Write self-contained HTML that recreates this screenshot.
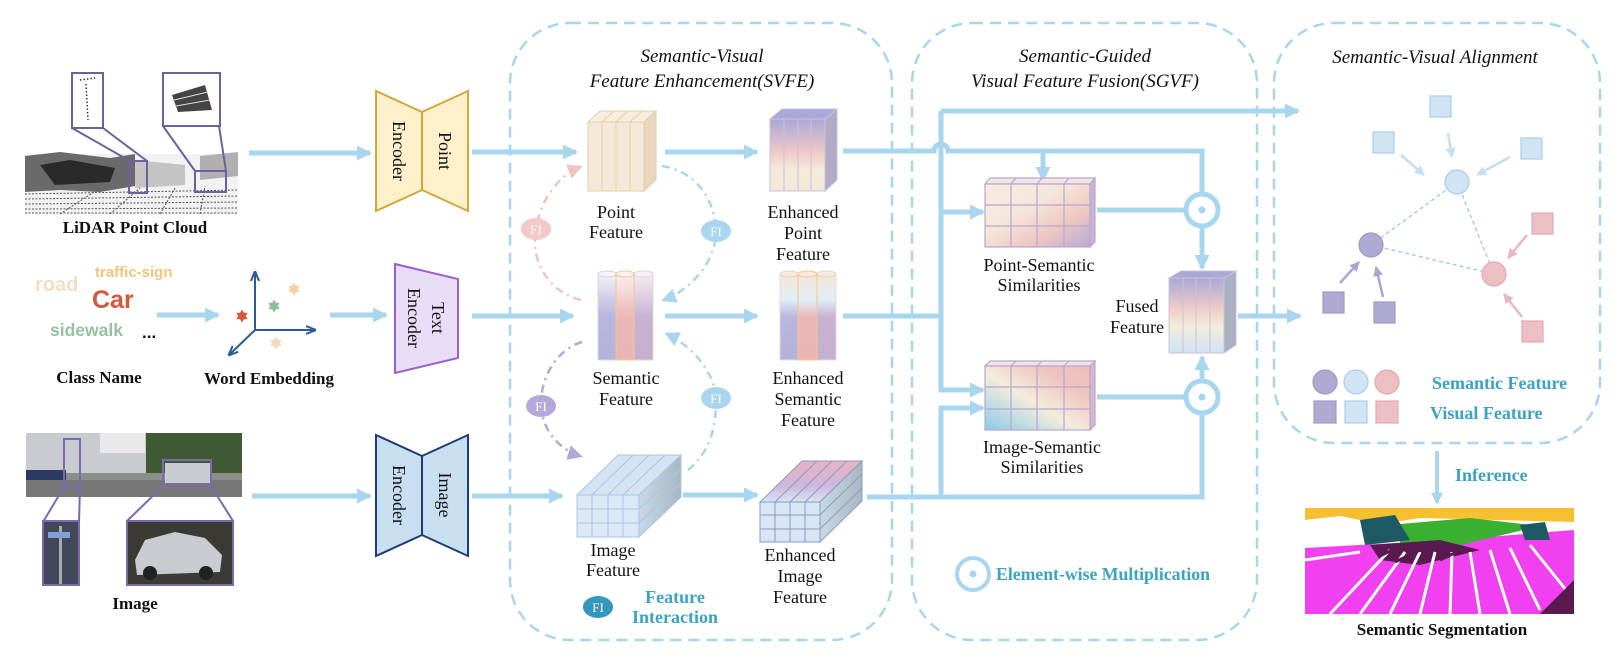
<!DOCTYPE html>
<html><head><meta charset="utf-8"><style>
html,body{margin:0;padding:0;background:#fff;}
svg{display:block;}
.s{font-family:"Liberation Serif",serif;font-size:18px;fill:#111;text-anchor:middle;}
.it{font-family:"Liberation Serif",serif;font-style:italic;font-size:19px;fill:#111;text-anchor:middle;}
.b{font-family:"Liberation Serif",serif;font-weight:bold;font-size:17px;fill:#111;text-anchor:middle;}
.t{font-family:"Liberation Serif",serif;font-weight:bold;font-size:18px;fill:#3aa3c6;}
.w{font-family:"Liberation Sans",sans-serif;font-weight:bold;}
</style></head><body>
<svg width="1614" height="658" viewBox="0 0 1614 658" xmlns="http://www.w3.org/2000/svg">
<defs>
<marker id="a" viewBox="0 0 3 3" refX="2.6" refY="1.5" markerWidth="3" markerHeight="3" orient="auto" markerUnits="strokeWidth"><path d="M0,0 L3,1.5 L0,3 z" fill="#a8d6ee"/></marker>
<marker id="ax" viewBox="0 0 10 10" refX="9" refY="5" markerWidth="5" markerHeight="5" orient="auto" markerUnits="strokeWidth"><path d="M0,1 L10,5 L0,9" fill="none" stroke="#2b5a9c" stroke-width="2"/></marker>
<marker id="ab" viewBox="0 0 10 10" refX="9" refY="5" markerWidth="4" markerHeight="4" orient="auto" markerUnits="strokeWidth"><path d="M0,0 L10,5 L0,10 z" fill="#c4e0f3"/></marker>
<marker id="ap" viewBox="0 0 10 10" refX="9" refY="5" markerWidth="4" markerHeight="4" orient="auto" markerUnits="strokeWidth"><path d="M0,0 L10,5 L0,10 z" fill="#aaa6d2"/></marker>
<marker id="ar" viewBox="0 0 10 10" refX="9" refY="5" markerWidth="4" markerHeight="4" orient="auto" markerUnits="strokeWidth"><path d="M0,0 L10,5 L0,10 z" fill="#eab8bc"/></marker>
<marker id="fp" viewBox="0 0 10 10" refX="8" refY="5" markerWidth="6" markerHeight="6" orient="auto" markerUnits="strokeWidth"><path d="M0,0 L10,5 L0,10 z" fill="#f0c4c4"/></marker>
<marker id="fb" viewBox="0 0 10 10" refX="8" refY="5" markerWidth="6" markerHeight="6" orient="auto" markerUnits="strokeWidth"><path d="M0,0 L10,5 L0,10 z" fill="#a9d6ee"/></marker>
<marker id="fv" viewBox="0 0 10 10" refX="8" refY="5" markerWidth="6" markerHeight="6" orient="auto" markerUnits="strokeWidth"><path d="M0,0 L10,5 L0,10 z" fill="#b3a9d6"/></marker>
<linearGradient id="gEP" x1="0" y1="0" x2="0" y2="1"><stop offset="0" stop-color="#a9a8d6"/><stop offset="0.45" stop-color="#efc8c6"/><stop offset="0.7" stop-color="#f5e9da"/><stop offset="1" stop-color="#f4e8da"/></linearGradient>
<linearGradient id="gF" x1="0" y1="0" x2="0" y2="1"><stop offset="0" stop-color="#a9a8d6"/><stop offset="0.4" stop-color="#efcbc6"/><stop offset="0.65" stop-color="#f4ecdc"/><stop offset="1" stop-color="#cfe3f3"/></linearGradient>
<linearGradient id="cL" x1="0" y1="0" x2="0" y2="1"><stop offset="0" stop-color="#f4f1f7"/><stop offset="0.5" stop-color="#b7b6dc"/><stop offset="1" stop-color="#b3b2da"/></linearGradient>
<linearGradient id="cM" x1="0" y1="0" x2="0" y2="1"><stop offset="0" stop-color="#fbeff0"/><stop offset="0.5" stop-color="#eab7b6"/><stop offset="1" stop-color="#e9b6b5"/></linearGradient>
<linearGradient id="cR" x1="0" y1="0" x2="0" y2="1"><stop offset="0" stop-color="#f4edf4"/><stop offset="0.5" stop-color="#c8b2d2"/><stop offset="1" stop-color="#c6b0d0"/></linearGradient>
<linearGradient id="eL" x1="0" y1="0" x2="0" y2="1"><stop offset="0" stop-color="#f5e6d6"/><stop offset="0.3" stop-color="#e0eef6"/><stop offset="0.5" stop-color="#b8b6dc"/><stop offset="1" stop-color="#b3b2da"/></linearGradient>
<linearGradient id="eM" x1="0" y1="0" x2="0" y2="1"><stop offset="0" stop-color="#f5e6d6"/><stop offset="0.3" stop-color="#e0eef6"/><stop offset="0.5" stop-color="#eab7b6"/><stop offset="1" stop-color="#e9b6b5"/></linearGradient>
<linearGradient id="eR" x1="0" y1="0" x2="0" y2="1"><stop offset="0" stop-color="#f5e6d6"/><stop offset="0.3" stop-color="#e0eef6"/><stop offset="0.5" stop-color="#c8b2d2"/><stop offset="1" stop-color="#c6b0d0"/></linearGradient>
<linearGradient id="gPS" x1="0" y1="0" x2="1" y2="1"><stop offset="0" stop-color="#f6ece0"/><stop offset="0.4" stop-color="#f5e6da"/><stop offset="0.7" stop-color="#eec6c2"/><stop offset="1" stop-color="#b3abd5"/></linearGradient>
<linearGradient id="gIS" x1="0" y1="1" x2="1" y2="0"><stop offset="0" stop-color="#8ccbe6"/><stop offset="0.45" stop-color="#f4ecdc"/><stop offset="0.75" stop-color="#eec4c0"/><stop offset="1" stop-color="#edbcbb"/></linearGradient>
<linearGradient id="gR" x1="0" y1="0" x2="1" y2="0"><stop offset="0" stop-color="#c8d8e6"/><stop offset="1" stop-color="#a9b7c3"/></linearGradient>
<linearGradient id="gEI" x1="0" y1="0" x2="0" y2="1"><stop offset="0" stop-color="#e9b3bf"/><stop offset="0.6" stop-color="#cdb6dc"/><stop offset="1" stop-color="#d7e5f4"/></linearGradient>
<polygon id="star" points="0,-6.5 1.9,-3.3 5.6,-3.25 3.8,0 5.6,3.25 1.9,3.3 0,6.5 -1.9,3.3 -5.6,3.25 -3.8,0 -5.6,-3.25 -1.9,-3.3"/>
</defs>

<!-- panels -->
<g fill="none" stroke="#a8d6ee" stroke-width="2.5" stroke-dasharray="11 7">
<rect x="510" y="23" width="382" height="617" rx="60"/>
<rect x="912" y="23" width="345" height="617" rx="60"/>
<rect x="1274" y="23" width="326" height="420" rx="60"/>
</g>

<text class="it" x="702" y="62">Semantic-Visual</text>
<text class="it" x="702" y="87">Feature Enhancement(SVFE)</text>
<text class="it" x="1085" y="62">Semantic-Guided</text>
<text class="it" x="1085" y="87">Visual Feature Fusion(SGVF)</text>
<text class="it" x="1435" y="63">Semantic-Visual Alignment</text>

<!-- LiDAR -->
<g>
<rect x="25" y="154" width="213" height="60" fill="#f2f2f2"/>
<path d="M25,156 L60,152 L110,158 L135,154 L135,186 L100,192 L60,190 L25,192 z" fill="#6a6a6a"/>
<path d="M40,165 L70,160 L115,168 L110,182 L55,185 z" fill="#2a2a2a"/>
<path d="M135,160 L185,165 L185,185 L135,188 z" fill="#c4c4c4"/>
<path d="M200,156 L238,152 L238,176 L200,180 z" fill="#b0b0b0"/>
<g stroke="#555" stroke-width="1" stroke-dasharray="2 1.5">
<line x1="25" y1="194" x2="238" y2="190"/><line x1="25" y1="199" x2="238" y2="196"/><line x1="25" y1="204" x2="238" y2="202"/><line x1="25" y1="209" x2="238" y2="208"/><line x1="25" y1="213" x2="238" y2="213"/>
<line x1="60" y1="214" x2="100" y2="188"/><line x1="110" y1="214" x2="140" y2="188"/><line x1="160" y1="214" x2="175" y2="188"/><line x1="200" y1="214" x2="205" y2="186"/>
</g>
<g fill="none" stroke="#6e5fa0" stroke-width="2">
<rect x="72" y="73" width="31" height="55" fill="#fff"/>
<rect x="163" y="73" width="57" height="53" fill="#fff"/>
<rect x="129" y="161" width="18" height="32"/>
<rect x="195" y="171" width="31" height="21"/>
<path d="M72,128 L130,161 M103,128 L147,161 M163,126 L195,171 M219,126 L226,171"/>
</g>
<path d="M80,80 L95,78 M86,84 L88,120" stroke="#333" stroke-width="1.5" stroke-dasharray="1.5 2"/>
<path d="M172,95 L205,85 L212,110 L178,112 z" fill="#444"/>
<path d="M174,100 L208,92 M176,106 L210,100" stroke="#ddd" stroke-width="1"/>
</g>
<text class="b" x="135" y="233">LiDAR Point Cloud</text>

<!-- class names -->
<text class="w" x="35" y="291" font-size="20" fill="#f2dfc4">road</text>
<text class="w" x="95" y="277" font-size="15" fill="#f3c37a">traffic-sign</text>
<text class="w" x="92" y="308" font-size="25" fill="#d9553b">Car</text>
<text class="w" x="50" y="336" font-size="17.5" fill="#95c3a0">sidewalk</text>
<text class="w" x="142" y="338" font-size="17" fill="#111">...</text>
<text class="b" x="99" y="383">Class Name</text>

<!-- word embedding -->
<g stroke="#2b5a9c" stroke-width="2" fill="none">
<line x1="255" y1="330" x2="255" y2="272" marker-end="url(#ax)"/>
<line x1="255" y1="330" x2="315" y2="330" marker-end="url(#ax)"/>
<line x1="255" y1="330" x2="229" y2="355" marker-end="url(#ax)"/>
</g>
<use href="#star" x="242" y="316" fill="#d9553b"/>
<use href="#star" x="274" y="306" fill="#8fbf9a"/>
<use href="#star" x="294" y="289" fill="#f3d3a0"/>
<use href="#star" x="276" y="343" fill="#f0dcc0"/>
<text class="b" x="269" y="384">Word Embedding</text>

<!-- Image -->
<g>
<rect x="26" y="433" width="216" height="64" fill="#8a8f8a"/>
<rect x="26" y="433" width="120" height="40" fill="#c8ccd0"/>
<rect x="100" y="433" width="45" height="20" fill="#e9e9ea"/>
<rect x="146" y="433" width="96" height="40" fill="#3f5a35"/>
<rect x="26" y="470" width="40" height="20" fill="#2a3a60"/>
<rect x="26" y="480" width="216" height="17" fill="#777"/>
<rect x="165" y="463" width="45" height="20" fill="#c9cdd3"/>
<g fill="none" stroke="#7a6aae" stroke-width="2">
<rect x="64" y="439" width="16" height="48"/>
<rect x="163" y="460" width="48" height="26"/>
<path d="M43,522 L64,487 M79,522 L80,487 M127,521 L163,486 M233,521 L211,486"/>
</g>
<rect x="43" y="521" width="36" height="64" fill="#40485a" stroke="#7a6aae" stroke-width="2"/>
<rect x="59" y="526" width="3" height="58" fill="#aaa"/>
<rect x="48" y="532" width="22" height="6" fill="#7fa0d8"/>
<rect x="127" y="521" width="106" height="64" fill="#3c3a34" stroke="#7a6aae" stroke-width="2"/>
<path d="M135,560 L145,540 L175,532 L205,538 L222,555 L220,572 L137,575 z" fill="#c8cbd0"/>
<circle cx="150" cy="573" r="7" fill="#222"/><circle cx="206" cy="573" r="7" fill="#222"/>
</g>
<text class="b" x="135" y="609">Image</text>

<!-- encoders -->
<g stroke-width="2">
<polygon points="376,91 422,112 422,190 376,211" fill="#fdf0cb" stroke="#d5a63a"/>
<polygon points="422,112 468,91 468,211 422,190" fill="#fdf0cb" stroke="#d5a63a"/>
<polygon points="395,264 458,279 458,358 395,373" fill="#e9dcf6" stroke="#9b5fcf"/>
<polygon points="376,435 422,456 422,535 376,556" fill="#c8dff2" stroke="#1f3c72"/>
<polygon points="422,456 468,435 468,556 422,535" fill="#c8dff2" stroke="#1f3c72"/>
</g>
<g>
<text class="s" transform="translate(399,151) rotate(90)" dy="6">Encoder</text>
<text class="s" transform="translate(445,151) rotate(90)" dy="6">Point</text>
<text class="s" transform="translate(414,318) rotate(90)" dy="6">Encoder</text>
<text class="s" transform="translate(438,318) rotate(90)" dy="6">Text</text>
<text class="s" transform="translate(399,495) rotate(90)" dy="6">Encoder</text>
<text class="s" transform="translate(445,495) rotate(90)" dy="6">Image</text>
</g>

<!-- main flow lines -->
<g fill="none" stroke="#a8d6ee" stroke-width="5">
<path d="M249,153 H370" marker-end="url(#a)"/>
<path d="M472,152 H576" marker-end="url(#a)"/>
<path d="M665,152 H757" marker-end="url(#a)"/>
<path d="M157,315 H218" marker-end="url(#a)"/>
<path d="M330,315 H386" marker-end="url(#a)"/>
<path d="M472,316 H573" marker-end="url(#a)"/>
<path d="M665,316 H757" marker-end="url(#a)"/>
<path d="M252,496 H370" marker-end="url(#a)"/>
<path d="M472,496 H562" marker-end="url(#a)"/>
<path d="M683,495 H757" marker-end="url(#a)"/>
<path d="M843,151 H934 a7,7 0 0 1 14,0 H1202 V194"/>
<path d="M1043,151 V180" marker-end="url(#a)"/>
<path d="M941,111 H1298" marker-end="url(#a)"/>
<path d="M941,111 V390 H983" marker-end="url(#a)"/>
<path d="M941,212 H983" marker-end="url(#a)"/>
<path d="M843,316 H941"/>
<path d="M867,497 H1202 V413"/>
<path d="M941,497 V408 H983" marker-end="url(#a)"/>
<path d="M1097,210 H1186"/>
<path d="M1202,226 V268" marker-end="url(#a)"/>
<path d="M1097,397 H1186"/>
<path d="M1202,381 V357" marker-end="url(#a)"/>
<path d="M1238,316 H1300" marker-end="url(#a)"/>
<path d="M1437,451 V503" stroke-width="4" marker-end="url(#a)"/>
</g>
<g fill="#fff" stroke="#a8d6ee" stroke-width="5">
<circle cx="1202" cy="210" r="16"/><circle cx="1202" cy="397" r="16"/><circle cx="973" cy="574" r="16" stroke-width="4"/>
</g>
<g fill="#a8d6ee"><circle cx="1202" cy="210" r="3.5"/><circle cx="1202" cy="397" r="3.5"/><circle cx="973" cy="574" r="3.5"/></g>

<!-- Point feature cube -->
<g stroke="#e4cfa9" stroke-width="1">
<polygon points="588,122 600,111 656,111 644,122" fill="#f7ecde"/>
<polygon points="644,122 656,111 656,180 644,191" fill="#e9d6bc"/>
<rect x="588" y="122" width="56" height="69" fill="#f5e8d8"/>
<path d="M602,122 V191 M616,122 V191 M630,122 V191 M602,122 L614,111 M616,122 L628,111 M630,122 L642,111" fill="none"/>
</g>
<text class="s" x="616" y="218">Point</text><text class="s" x="616" y="238">Feature</text>

<!-- Enhanced point cube -->
<g stroke="#c9c2dc" stroke-width="1">
<polygon points="770,119 782,109 837,109 825,119" fill="#a9a8d6"/>
<polygon points="825,119 837,109 837,180 825,191" fill="#b3abc6"/>
<rect x="770" y="119" width="55" height="72" fill="url(#gEP)"/>
<path d="M784,119 V191 M798,119 V191 M811,119 V191" fill="none"/>
</g>
<text class="s" x="803" y="218">Enhanced</text><text class="s" x="803" y="239">Point</text><text class="s" x="803" y="260">Feature</text>

<!-- Semantic cylinders -->
<g stroke-width="1">
<rect x="598" y="274" width="18" height="86" fill="url(#cL)" stroke="#d8d4ea"/><ellipse cx="607" cy="274" rx="9" ry="3" fill="#f7f4f8" stroke="#d8d4ea"/>
<rect x="634" y="274" width="19" height="86" fill="url(#cR)" stroke="#e0d4e6"/><ellipse cx="643.5" cy="274" rx="9.5" ry="3" fill="#f7f1f6" stroke="#e0d4e6"/>
<rect x="616" y="274" width="18" height="86" fill="url(#cM)" stroke="#f0c890"/><ellipse cx="625" cy="274" rx="9" ry="3" fill="#fcf2f0" stroke="#f0c890"/>
</g>
<text class="s" x="626" y="384">Semantic</text><text class="s" x="626" y="405">Feature</text>

<g stroke-width="1">
<rect x="780" y="274" width="18" height="86" fill="url(#eL)" stroke="#e5d8e6"/><ellipse cx="789" cy="274" rx="9" ry="3" fill="#f7eadc" stroke="#e8d4c4"/>
<rect x="817" y="274" width="19" height="86" fill="url(#eR)" stroke="#e5d8e6"/><ellipse cx="826.5" cy="274" rx="9.5" ry="3" fill="#f7eadc" stroke="#e8d4c4"/>
<rect x="798" y="274" width="19" height="86" fill="url(#eM)" stroke="#f0c890"/><ellipse cx="807.5" cy="274" rx="9.5" ry="3" fill="#f7eadc" stroke="#f0c890"/>
</g>
<text class="s" x="808" y="384">Enhanced</text><text class="s" x="808" y="405">Semantic</text><text class="s" x="808" y="426">Feature</text>

<!-- Image feature block -->
<g stroke="#a9c6e6" stroke-width="1">
<polygon points="577,495 618,455 681,455 639,495" fill="#d5e4f3"/>
<polygon points="639,495 681,455 681,497 639,537" fill="url(#gR)"/>
<rect x="577" y="495" width="62" height="42" fill="#dbe8f5"/>
<path d="M592,495 V537 M608,495 V537 M623,495 V537 M577,509 H639 M577,523 H639 M592,495 L633,455 M608,495 L649,455 M623,495 L665,455 M639,509 L681,469 M639,523 L681,483" fill="none"/>
</g>
<text class="s" x="613" y="556">Image</text><text class="s" x="613" y="576">Feature</text>

<g stroke="#8a9cc0" stroke-width="1">
<polygon points="760,502 802,461 862,461 820,502" fill="url(#gEI)"/>
<polygon points="820,502 862,461 862,501 820,542" fill="url(#gR)"/>
<rect x="760" y="502" width="60" height="40" fill="#d7e5f4"/>
<path d="M775,502 V542 M790,502 V542 M805,502 V542 M760,515 H820 M760,529 H820 M775,502 L817,461 M790,502 L832,461 M805,502 L847,461 M820,515 L862,474 M820,529 L862,488" fill="none"/>
</g>
<text class="s" x="800" y="561">Enhanced</text><text class="s" x="800" y="582">Image</text><text class="s" x="800" y="603">Feature</text>

<!-- FI curves -->
<g fill="none" stroke-width="2.5" stroke-dasharray="8 5 2 5">
<path d="M581,300 C548,292 530,260 536,230 C540,200 558,176 580,167" stroke="#f0c4c4" marker-end="url(#fp)"/>
<path d="M662,166 C700,172 716,205 716,232 C716,262 690,290 664,300" stroke="#a9d6ee" marker-end="url(#fb)"/>
<path d="M582,342 C555,350 540,380 541,406 C542,430 560,450 580,456" stroke="#b3a9d6" marker-end="url(#fv)"/>
<path d="M688,470 C712,450 716,425 716,398 C714,370 690,345 667,334" stroke="#a9d6ee" marker-end="url(#fb)"/>
</g>
<g font-family="Liberation Serif,serif" font-size="13" fill="#fff" text-anchor="middle">
<ellipse cx="536" cy="229" rx="15" ry="11" fill="#f3c9c9"/><text x="536" y="234">FI</text>
<ellipse cx="716" cy="231" rx="15" ry="11" fill="#a9d6ee"/><text x="716" y="236">FI</text>
<ellipse cx="541" cy="406" rx="15" ry="11" fill="#b3a9d6"/><text x="541" y="411">FI</text>
<ellipse cx="716" cy="398" rx="15" ry="11" fill="#a9d6ee"/><text x="716" y="403">FI</text>
<ellipse cx="598" cy="607" rx="15" ry="11" fill="#3298bd"/><text x="598" y="612">FI</text>
</g>
<text class="t" x="675" y="603" text-anchor="middle">Feature</text>
<text class="t" x="675" y="623" text-anchor="middle">Interaction</text>

<!-- similarity grids -->
<g stroke="#b9a6d0" stroke-width="1.2">
<polygon points="985,184 990,178 1095,178 1090,184" fill="#f2e6e2"/>
<polygon points="1090,184 1095,178 1095,242 1090,247" fill="#c7b3d2"/>
<rect x="985" y="184" width="105" height="63" fill="url(#gPS)"/>
<path d="M1011,184 V247 M1037,184 V247 M1064,184 V247 M985,205 H1090 M985,226 H1090 M1011,184 L1016,178 M1037,184 L1042,178 M1064,184 L1069,178" fill="none"/>
<polygon points="985,366 990,361 1095,361 1090,366" fill="#f2e2e2"/>
<polygon points="1090,366 1095,361 1095,425 1090,430" fill="#d8b8c8"/>
<rect x="985" y="366" width="105" height="64" fill="url(#gIS)"/>
<path d="M1011,366 V430 M1037,366 V430 M1064,366 V430 M985,387 H1090 M985,409 H1090 M1011,366 L1016,361 M1037,366 L1042,361 M1064,366 L1069,361" fill="none"/>
</g>
<text class="s" x="1039" y="271">Point-Semantic</text><text class="s" x="1039" y="291">Similarities</text>
<text class="s" x="1042" y="453">Image-Semantic</text><text class="s" x="1042" y="473">Similarities</text>

<!-- fused -->
<g stroke="#c9c2dc" stroke-width="1">
<polygon points="1169,278 1181,271 1236,271 1224,278" fill="#a9a8d6"/>
<polygon points="1224,278 1236,271 1236,345 1224,353" fill="#a9b0c0"/>
<rect x="1169" y="278" width="55" height="75" fill="url(#gF)"/>
<path d="M1183,278 V353 M1196,278 V353 M1210,278 V353" fill="none"/>
</g>
<text class="s" x="1137" y="312">Fused</text><text class="s" x="1137" y="333">Feature</text>

<text class="t" x="996" y="580" font-size="16" textLength="214" lengthAdjust="spacingAndGlyphs">Element-wise Multiplication</text>

<!-- SVA -->
<g stroke-width="1.5" stroke-dasharray="4 3" fill="none">
<line x1="1457" y1="182" x2="1371" y2="245" stroke="#a9cdea"/>
<line x1="1457" y1="182" x2="1494" y2="274" stroke="#a9cdea"/>
<line x1="1371" y1="245" x2="1494" y2="274" stroke="#a9cdea"/>
</g>
<g stroke-width="2.5" fill="none">
<line x1="1448" y1="133" x2="1452" y2="157" stroke="#c4e0f3" marker-end="url(#ab)"/>
<line x1="1401" y1="155" x2="1424" y2="175" stroke="#c4e0f3" marker-end="url(#ab)"/>
<line x1="1510" y1="157" x2="1477" y2="175" stroke="#c4e0f3" marker-end="url(#ab)"/>
<line x1="1340" y1="283" x2="1359" y2="262" stroke="#aaa6d2" marker-end="url(#ap)"/>
<line x1="1383" y1="297" x2="1376" y2="267" stroke="#aaa6d2" marker-end="url(#ap)"/>
<line x1="1527" y1="235" x2="1508" y2="258" stroke="#eab8bc" marker-end="url(#ar)"/>
<line x1="1522" y1="317" x2="1504" y2="294" stroke="#eab8bc" marker-end="url(#ar)"/>
</g>
<g stroke-width="1.2">
<g fill="#d0e4f4" stroke="#a9cdea">
<rect x="1430" y="96" width="21" height="21"/><rect x="1373" y="132" width="21" height="21"/><rect x="1521" y="138" width="21" height="21"/>
<circle cx="1457" cy="182" r="12"/>
<circle cx="1356" cy="382" r="12"/><rect x="1345" y="401" width="22" height="22"/>
</g>
<g fill="#aeaad2" stroke="#9e9ac8">
<rect x="1323" y="292" width="21" height="21"/><rect x="1374" y="302" width="21" height="21"/>
<circle cx="1371" cy="245" r="12"/>
<circle cx="1325" cy="382" r="12"/><rect x="1314" y="401" width="22" height="22"/>
</g>
<g fill="#ecc0c2" stroke="#e4aab0">
<rect x="1532" y="213" width="21" height="21"/><rect x="1522" y="321" width="21" height="21"/>
<circle cx="1494" cy="274" r="12"/>
<circle cx="1387" cy="382" r="12"/><rect x="1376" y="401" width="22" height="22"/>
</g>
</g>
<text class="t" x="1432" y="389">Semantic Feature</text>
<text class="t" x="1430" y="419">Visual Feature</text>
<text class="t" x="1455" y="481" font-size="16">Inference</text>

<!-- segmentation -->
<g>
<rect x="1305" y="508" width="269" height="106" fill="#f040f0"/>
<rect x="1305" y="508" width="269" height="16" fill="#f7c030"/>
<path d="M1305,520 L1340,516 L1380,524 L1420,518 L1574,522 L1574,530 L1450,540 L1305,548 z" fill="#fff"/>
<path d="M1400,524 L1470,518 L1540,526 L1460,545 L1400,545 z" fill="#3ab030"/>
<path d="M1360,520 L1395,515 L1410,540 L1365,545 z" fill="#1d5a64"/>
<path d="M1520,525 L1545,522 L1550,540 L1525,540 z" fill="#1d5a64"/>
<path d="M1370,545 L1440,540 L1480,550 L1420,565 L1380,560 z" fill="#5a1a50"/>
<g stroke="#fff" stroke-width="3">
<line x1="1330" y1="614" x2="1390" y2="550"/><line x1="1360" y1="614" x2="1405" y2="552"/><line x1="1390" y1="614" x2="1420" y2="552"/>
<line x1="1420" y1="614" x2="1435" y2="552"/><line x1="1450" y1="614" x2="1452" y2="552"/><line x1="1480" y1="614" x2="1470" y2="552"/>
<line x1="1510" y1="614" x2="1490" y2="550"/><line x1="1540" y1="610" x2="1510" y2="548"/><line x1="1574" y1="600" x2="1530" y2="545"/>
<line x1="1305" y1="560" x2="1360" y2="552"/>
</g>
<g stroke="#5a1a50" stroke-width="3">
<line x1="1380" y1="556" x2="1400" y2="546"/><line x1="1395" y1="562" x2="1420" y2="550"/><line x1="1440" y1="560" x2="1465" y2="548"/>
</g>
<path d="M1540,614 L1574,580 L1574,614 z" fill="#5a1a50"/>
</g>
<text class="b" x="1442" y="635">Semantic Segmentation</text>
</svg>
</body></html>
